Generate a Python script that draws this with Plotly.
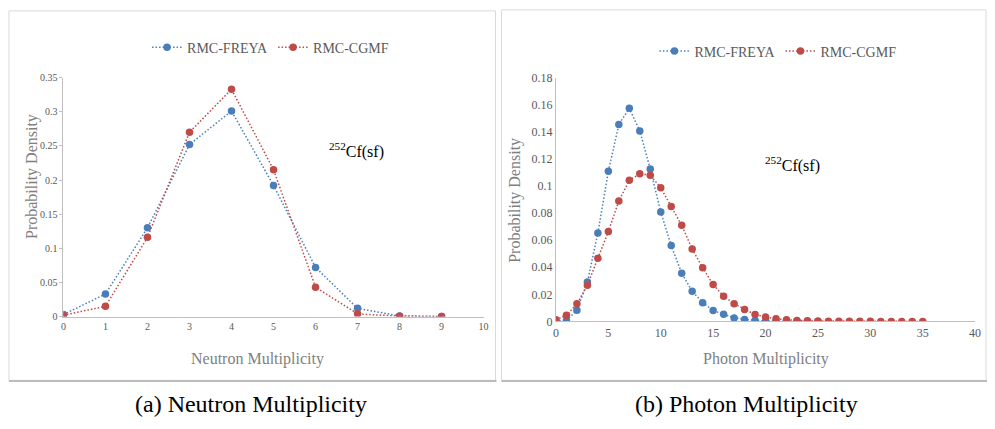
import plotly.graph_objects as go

# ---- data ----
neutron_x = [0, 1, 2, 3, 4, 5, 6, 7, 8, 9]
neutron_freya = [0.003, 0.033, 0.130, 0.252, 0.301, 0.192, 0.072, 0.012, 0.001, 0.0001]
neutron_cgmf = [0.002, 0.015, 0.116, 0.270, 0.333, 0.215, 0.043, 0.004, 0.0005, 0.0]

photon_x_freya = list(range(0, 26))
photon_freya = [0.0, 0.0007, 0.0083, 0.029, 0.0653, 0.1108, 0.1454, 0.1573, 0.1406, 0.1125,
                0.0808, 0.056, 0.0355, 0.0222, 0.0138, 0.0081, 0.0052, 0.0026, 0.0014, 0.0007,
                0.0003, 0.0002, 0.0001, 0.0001, 0.0, 0.0]
photon_x_cgmf = list(range(0, 36))
photon_cgmf = [0.0012, 0.0045, 0.013, 0.0267, 0.0467, 0.0663, 0.0889, 0.1042, 0.109, 0.108,
               0.0987, 0.0849, 0.071, 0.0534, 0.0396, 0.0272, 0.0186, 0.0131, 0.0088, 0.005,
               0.0033, 0.0019, 0.0012, 0.0007, 0.0004, 0.0003, 0.0002, 0.0002, 0.0001, 0.0001,
               0.0001, 0.0, 0.0, 0.0, 0.0, 0.0]

series_names = ["RMC-FREYA", "RMC-CGMF"]
BLUE = "#4a7ebb"
RED = "#be4b48"
W, H = 995, 429
FONT = "Times New Roman"
GREY = "#595959"

def px(x):
    return x / W

def py(y):
    return 1 - y / H

fig = go.Figure()

def add(x, y, name, color, xa, ya, legend):
    fig.add_trace(go.Scatter(
        x=x, y=y, name=name, mode="lines+markers",
        line=dict(color=color, width=1.5, dash="1.5px,2px"),
        marker=dict(color=color, size=7.5),
        xaxis=xa, yaxis=ya, legend=legend))

add(neutron_x, neutron_freya, series_names[0], BLUE, "x", "y", "legend")
add(neutron_x, neutron_cgmf, series_names[1], RED, "x", "y", "legend")
add(photon_x_freya, photon_freya, series_names[0], BLUE, "x2", "y2", "legend2")
add(photon_x_cgmf, photon_cgmf, series_names[1], RED, "x2", "y2", "legend2")

axis_common = dict(showgrid=False, zeroline=False, showline=True, linecolor="#bfbfbf",
                   linewidth=1, fixedrange=True)
tick_small = dict(family=FONT, size=10, color=GREY)
tick_big = dict(family=FONT, size=12, color=GREY)

fig.update_layout(
    width=W, height=H, margin=dict(l=0, r=0, t=0, b=0),
    paper_bgcolor="white", plot_bgcolor="white",
    font=dict(family=FONT, color=GREY),
    xaxis=dict(domain=[px(61), px(485)], range=[0, 10], dtick=1, anchor="y",
               ticks="", tickfont=tick_small, **axis_common),
    yaxis=dict(domain=[py(320), py(73)], range=[0, 0.35], dtick=0.05, anchor="x",
               ticks="outside", ticklen=3, tickcolor="#bfbfbf", tickfont=tick_small,
               **axis_common),
    xaxis2=dict(domain=[px(558), px(981)], range=[0, 40], dtick=5, anchor="y2",
                ticks="", tickfont=tick_big, **axis_common),
    yaxis2=dict(domain=[py(325), py(73)], range=[0, 0.18], dtick=0.02, anchor="x2",
                ticks="", tickfont=tick_big, **axis_common),
    legend=dict(orientation="h", x=px(270), y=py(42), xanchor="center", yanchor="middle",
                font=dict(family=FONT, size=14, color=GREY), bgcolor="rgba(0,0,0,0)"),
    legend2=dict(orientation="h", x=px(782), y=py(46), xanchor="center", yanchor="middle",
                 font=dict(family=FONT, size=14, color=GREY), bgcolor="rgba(0,0,0,0)"),
)

# panel frames
shapes = []
for x0, x1, y0 in [(6, 497, 4), (503, 992, 3)]:
    shapes.append(dict(type="rect", xref="paper", yref="paper",
                       x0=px(x0), x1=px(x1), y0=py(386), y1=py(y0),
                       line=dict(color="#d9d9d9", width=1), layer="below"))
    shapes.append(dict(type="line", xref="paper", yref="paper",
                       x0=px(x0), x1=px(x1 + 1), y0=py(386.5), y1=py(386.5),
                       line=dict(color="#bcbcbc", width=2), layer="below"))
fig.update_layout(shapes=shapes)

ann = []
# axis titles
ann.append(dict(text="Probability Density", x=px(30), y=py(175), textangle=-90,
                font=dict(family=FONT, size=16, color="#7f7f7f")))
ann.append(dict(text="Neutron Multiplicity", x=px(257), y=py(364),
                font=dict(family=FONT, size=16, color="#7f7f7f")))
ann.append(dict(text="Probability Density", x=px(517), y=py(200), textangle=-90,
                font=dict(family=FONT, size=16, color="#7f7f7f")))
ann.append(dict(text="Photon Multiplicity", x=px(770), y=py(364),
                font=dict(family=FONT, size=16, color="#7f7f7f")))
# isotope labels
ann.append(dict(text="<sup>252</sup>Cf(sf)", x=px(357), y=py(148),
                font=dict(family=FONT, size=16, color="black")))
ann.append(dict(text="<sup>252</sup>Cf(sf)", x=px(797), y=py(163),
                font=dict(family=FONT, size=16, color="black")))
# captions
ann.append(dict(text="(a) Neutron Multiplicity", x=px(250), y=py(410),
                font=dict(family=FONT, size=24, color="black")))
ann.append(dict(text="(b) Photon Multiplicity", x=px(750), y=py(410),
                font=dict(family=FONT, size=24, color="black")))
for a in ann:
    a.update(xref="paper", yref="paper", showarrow=False, xanchor="center", yanchor="middle")
fig.update_layout(annotations=ann)

fig.write_html("out.html")
